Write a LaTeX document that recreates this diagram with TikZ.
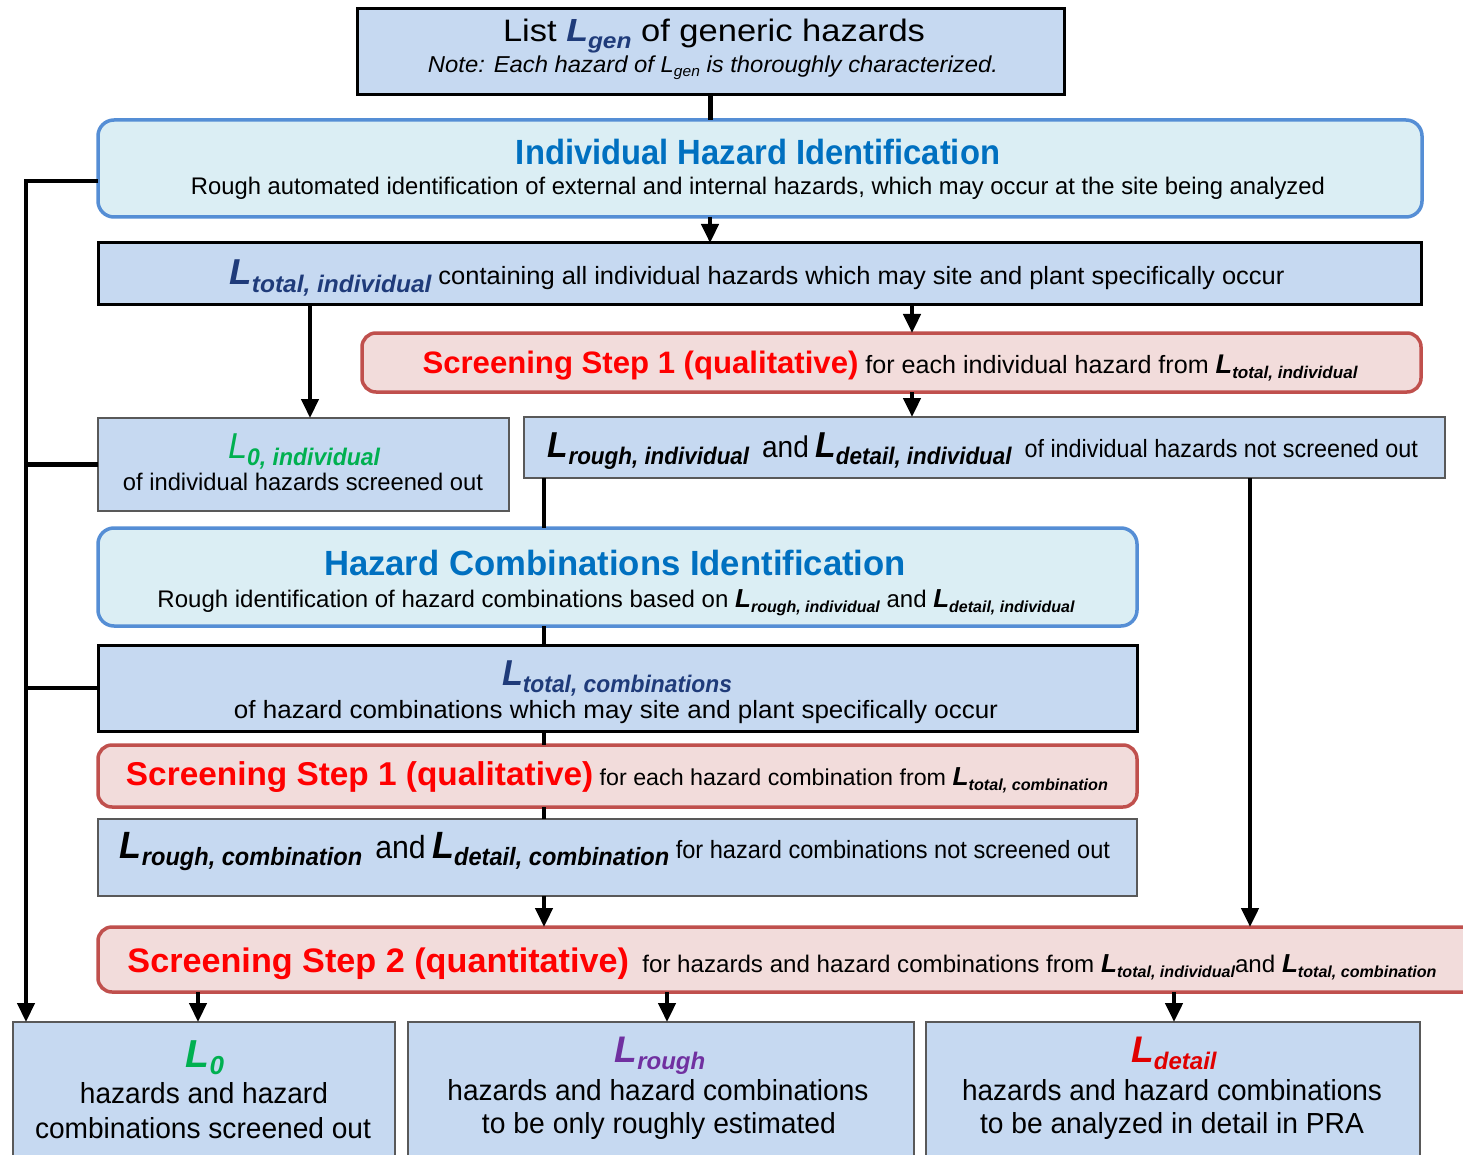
\documentclass[tikz,border=0pt]{standalone}
\usepackage{fontspec}
\setmainfont{Liberation Sans}
\usetikzlibrary{arrows.meta}
\definecolor{boxblue}{HTML}{C6D9F1}
\definecolor{idfill}{HTML}{DBEEF4}
\definecolor{idborder}{HTML}{558ED5}
\definecolor{redfill}{HTML}{F2DCDB}
\definecolor{redborder}{HTML}{C0504D}
\definecolor{titleblue}{HTML}{0070C0}
\definecolor{navyL}{HTML}{1F3B7A}
\definecolor{greenL}{HTML}{00B050}
\definecolor{purpleL}{HTML}{7030A0}
\definecolor{redL}{HTML}{E00000}
\definecolor{redT}{HTML}{FF0000}
\definecolor{grayb}{HTML}{595959}
\newcommand{\fs}[1]{\fontsize{#1}{#1}\selectfont}
\newcommand{\tw}[2]{\resizebox{#1pt}{\height}{#2}}
\newcommand{\Lx}[3]{{\fs{#1}\bfseries\itshape L}\raisebox{-.2\dimexpr#1pt\relax}{\fs{#2}\bfseries\itshape #3}}
\newcommand{\Ly}[3]{{\fs{#1}\itshape L}\raisebox{-.2\dimexpr#1pt\relax}{\fs{#2}\bfseries\itshape #3}}
\tikzset{
  every node/.style={inner sep=0pt, outer sep=0pt},
  plainbox/.style={draw=black, line width=3pt, fill=boxblue},
  graybox/.style={draw=grayb, line width=1.6pt, fill=boxblue},
  idbox/.style={draw=idborder, line width=3.5pt, fill=idfill, rounded corners=16pt},
  redbox/.style={draw=redborder, line width=3.5pt, fill=redfill, rounded corners=14pt},
  txt/.style={anchor=base, inner sep=0pt},
  conn/.style={line width=4.5pt},
  arr/.style={conn, -{Triangle[length=19pt,width=17pt]}}
}
\newcommand{\mkbox}[6]{\node[#1, minimum width={(#5-#3)*1pt}, minimum height={(#6-#4)*1pt}] (#2) at ({(#3+#5)/2},{(#4+#6)/2}) {};}
\begin{document}
\begin{tikzpicture}[x=1pt,y=-1pt]
\useasboundingbox (0,0) rectangle (1463,1155);
\fill[white] (0,0) rectangle (1463,1155);
\clip (0,0) rectangle (1463,1155);
% column coordinates
\coordinate (colA) at (710,0);
\coordinate (colB) at (310,0);
\coordinate (colC) at (912,0);
\coordinate (colD) at (544,0);
\coordinate (colE) at (1250,0);
\coordinate (colF) at (198,0);
\coordinate (colG) at (667,0);
\coordinate (colH) at (1174,0);
\coordinate (colL) at (26,0);
\coordinate (rowA) at (0,181);
% boxes
\mkbox{plainbox}{top}{357}{9}{1064}{95}
\mkbox{idbox}{ihi}{98}{120}{1422}{217}
\mkbox{plainbox}{ltot}{98}{243}{1421}{305}
\mkbox{redbox}{ssi}{362}{333}{1421}{392}
\mkbox{graybox}{lzi}{98}{418}{509}{511}
\mkbox{graybox}{lri}{524}{417}{1445}{478}
\mkbox{idbox}{hci}{98}{528}{1137}{626}
\mkbox{plainbox}{ltc}{98}{645}{1137}{731}
\mkbox{redbox}{ssc}{98}{745}{1137}{807}
\mkbox{graybox}{lrc}{98}{819}{1137}{896}
\mkbox{redbox}{sstwo}{98}{927}{1490}{992}
\mkbox{graybox}{bzero}{13}{1022}{395}{1180}
\mkbox{graybox}{brough}{408}{1022}{914}{1180}
\mkbox{graybox}{bdetail}{926}{1022}{1420}{1180}
% connectors
\draw[conn] (top.south) -- (top.south |- ihi.north);
\draw[arr] (ihi.south -| colA) -- (ltot.north -| colA);
\draw[arr] (ltot.south -| colB) -- (lzi.north -| colB);
\draw[arr] (ltot.south -| colC) -- (ssi.north -| colC);
\draw[arr] (ssi.south -| colC) -- (lri.north -| colC);
\draw[conn] (lri.south -| colD) -- (hci.north -| colD);
\draw[conn] (hci.south -| colD) -- (ltc.north -| colD);
\draw[conn] (ltc.south -| colD) -- (ssc.north -| colD);
\draw[conn] (ssc.south -| colD) -- (lrc.north -| colD);
\draw[arr] (lrc.south -| colD) -- (sstwo.north -| colD);
\draw[arr] (lri.south -| colE) -- (sstwo.north -| colE);
\draw[arr] (sstwo.south -| colF) -- (bzero.north -| colF);
\draw[arr] (sstwo.south -| colG) -- (brough.north -| colG);
\draw[arr] (sstwo.south -| colH) -- (bdetail.north -| colH);
\draw[arr] (ihi.west |- rowA) -| (bzero.north -| colL);
\draw[conn] (lzi.west) -- (lzi.west -| colL);
\draw[conn] (ltc.west) -- (ltc.west -| colL);
% texts
\node[txt] (t1) at (714,42) {\fs{31}\tw{422}{List {\color{navyL}\Lx{32}{22}{gen}} of generic hazards}};
\node[txt] (t2) at (713,73) {\fs{23}\itshape\tw{570}{Note: Each hazard of L\raisebox{-4pt}{\fs{15}gen} is thoroughly characterized.}};
\node[txt] (t3) at (758,165) {\fs{35}\bfseries\color{titleblue}\tw{484}{Individual Hazard Identification}};
\node[txt] (t4) at (758,195) {\fs{24}\tw{1134}{Rough automated identification of external and internal hazards, which may occur at the site being analyzed}};
\node[txt] (t5) at (757,285) {\fs{25}\tw{1055}{{\color{navyL}\Lx{36}{24}{total, individual}} containing all individual hazards which may site and plant specifically occur}};
\node[txt] (t6) at (890,373) {\fs{25}\tw{935}{{\fs{31}\bfseries\color{redT}Screening Step 1 (qualitative)} for each individual hazard from \Lx{27}{17}{total, individual}}};
\node[txt] (t7) at (304,458) {\color{greenL}\tw{152}{\Ly{36}{24}{0, individual}}};
\node[txt] (t8) at (303,490) {\fs{24}\tw{360}{of individual hazards screened out}};
\node[txt] (t9) at (983,457) {\fs{25}\tw{870}{\Lx{36}{24}{rough, individual}\ \ {\fs{30}and} \Lx{36}{24}{detail, individual}\ \ of individual hazards not screened out}};
\node[txt] (t10) at (615,575) {\fs{35}\bfseries\color{titleblue}\tw{582}{Hazard Combinations Identification}};
\node[txt] (t11) at (616,607) {\fs{24}\tw{917}{Rough identification of hazard combinations based on \Lx{26}{16}{rough, individual} and \Lx{26}{16}{detail, individual}}};
\node[txt] (t12) at (617,685) {\color{navyL}\tw{230}{\Lx{36}{24}{total, combinations}}};
\node[txt] (t13) at (616,718) {\fs{25}\tw{764}{of hazard combinations which may site and plant specifically occur}};
\node[txt] (t14) at (617,785) {\fs{23}\tw{982}{{\fs{33}\bfseries\color{redT}Screening Step 1 (qualitative)} for each hazard combination from \Lx{26}{16}{total, combination}}};
\node[txt] (t15) at (615,858) {\fs{25}\tw{990}{\Lx{38}{25}{rough, combination}\ \ {\fs{32}and} \Lx{38}{25}{detail,\ combination} for hazard combinations not screened out}};
\node[txt] (t16) at (782,972) {\fs{24}\tw{1309}{{\fs{34}\bfseries\color{redT}Screening Step 2 (quantitative)}\ \ for hazards and hazard combinations from \Lx{26}{16}{total, individual}and \Lx{26}{16}{total, combination}}};
\node[txt] (t17) at (205,1067) {\color{greenL}\Lx{39}{26}{0}};
\node[txt] (t18) at (204,1103) {\fs{29}\tw{248}{hazards and hazard}};
\node[txt] (t19) at (203,1138) {\fs{29}\tw{336}{combinations screened out}};
\node[txt] (t20) at (660,1062) {\color{purpleL}\Lx{37}{24}{rough}};
\node[txt] (t21) at (658,1100) {\fs{29}\tw{421}{hazards and hazard combinations}};
\node[txt] (t22) at (659,1133) {\fs{29}\tw{354}{to be only roughly estimated}};
\node[txt] (t23) at (1174,1062) {\color{redL}\Lx{37}{24}{detail}};
\node[txt] (t24) at (1172,1100) {\fs{29}\tw{420}{hazards and hazard combinations}};
\node[txt] (t25) at (1172,1133) {\fs{29}\tw{384}{to be analyzed in detail in PRA}};
\end{tikzpicture}
\end{document}
